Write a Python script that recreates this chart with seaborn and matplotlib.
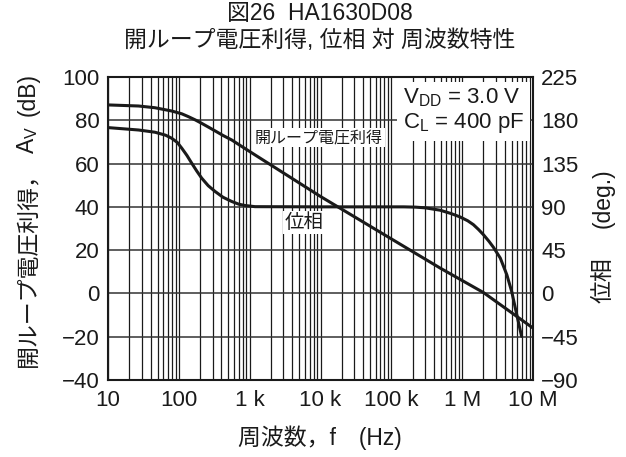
import numpy as np
import pandas as pd
import matplotlib
matplotlib.use("Agg")
import matplotlib.pyplot as plt
import matplotlib.ticker as mticker
import seaborn as sns

# ---- data ----
gain_freq = [10, 27, 46, 79, 110, 136, 170, 210, 260, 325, 420, 558, 800, 1190, 10000,
             100000, 490000, 2e6, 1e7]
gain_db = [87.1, 86.6, 85.8, 84.3, 83.0, 81.7, 80.2, 78.6, 76.9, 75.1, 73.0, 70.9, 67.6, 64.0,
           44.8, 25.2, 11.7, 0.4, -16.0]

phase_freq = [10, 27, 46, 65, 79, 95, 110, 130, 152, 180, 210, 260, 325, 420, 558, 700, 861,
              1190, 10000, 150000, 220000, 300000, 490000, 700000, 935000, 1.2e6, 1.44e6, 1.7e6,
              2e6, 2.4e6, 2.76e6, 3.45e6, 4.27e6, 5e6, 5.9e6, 6.9e6]
phase_deg = [172.4, 169.9, 167.6, 164.5, 161.4, 157, 151, 143.5, 135.4, 127, 119.9, 112, 106,
             100, 95.6, 92.8, 91.4, 90.2, 90, 90, 89.7, 89, 86.5, 83, 79.5, 75.5, 71.5, 66.5,
             61, 54, 48, 36.8, 19.4, 2.1, -22.1, -44.6]

xtick_vals = [10, 100, 1e3, 1e4, 1e5, 1e6, 1e7]
xtick_labels = ["10", "100", "1 k", "10 k", "100 k", "1 M", "10 M"]
left_ticks = [-40, -20, 0, 20, 40, 60, 80, 100]
right_ticks = [-90, -45, 0, 45, 90, 135, 180, 225]

INK = "#1a1a1a"
sns.set_style("white")
plt.rcParams['font.family'] = ['Liberation Sans', 'Noto Sans CJK JP', 'DejaVu Sans']
plt.rcParams['mathtext.fontset'] = 'custom'
plt.rcParams['mathtext.rm'] = 'Liberation Sans'

W, H = 626, 457
fig = plt.figure(figsize=(W / 100, H / 100), dpi=100)
ax = fig.add_axes([108 / W, 1 - 380 / H, (533 - 108) / W, (380 - 77) / H])

gdf = pd.DataFrame({"f": gain_freq, "g": gain_db})
pdf = pd.DataFrame({"f": phase_freq, "p": phase_deg})

ax.set_xscale("log")
sns.lineplot(data=gdf, x="f", y="g", ax=ax, color=INK, lw=2.2, zorder=5)
ax.set_xlim(10, 1e7)
ax.set_ylim(-40, 100)
ax.set_yticks(left_ticks)
ax.set_yticklabels([str(v).replace("-", "\u2212") for v in left_ticks])
ax.set_xticks(xtick_vals)
ax.set_xticklabels(xtick_labels)
ax.xaxis.set_minor_locator(mticker.LogLocator(base=10, subs=np.arange(2, 10), numticks=20))
ax.xaxis.set_minor_formatter(mticker.NullFormatter())
ax.grid(which="both", axis="x", color=INK, lw=0.9)
ax.grid(which="major", axis="y", color="#333333", lw=1.1)
ax.tick_params(which="both", length=0, labelsize=16, colors=INK)
ax.tick_params(axis="x", pad=7)
ax.tick_params(axis="y", pad=6)
ax.set_xlabel("")
ax.set_ylabel("")
for s in ax.spines.values():
    s.set_color(INK)
    s.set_linewidth(1.5)

ax2 = ax.twinx()
sns.lineplot(data=pdf, x="f", y="p", ax=ax2, color=INK, lw=2.2, zorder=5)
ax2.set_ylim(-90, 225)
ax2.set_yticks(right_ticks)
ax2.set_yticklabels([str(v).replace("-", "\u2212") for v in right_ticks])
ax2.tick_params(length=0, labelsize=16, colors=INK, pad=6)
ax2.set_xlim(10, 1e7)
ax2.set_ylabel("")
for s in ax2.spines.values():
    s.set_visible(False)

# titles
fig.text(320 / W, 1 - 14 / H, "図26  HA1630D08", ha="center", va="center", fontsize=16.5, color=INK)
fig.text(320 / W, 1 - 41 / H, "開ループ電圧利得, 位相 対 周波数特性", ha="center", va="center",
         fontsize=16.5, color=INK)

# x label
fig.text(320 / W, 1 - 438 / H, "周波数，f　(Hz)", ha="center", va="center", fontsize=16.5, color=INK)

# left y label (pieces)
fig.text(28 / W, 1 - 264 / H, "開ループ電圧利得，", rotation=90, ha="center", va="center",
         fontsize=16.5, color=INK)
fig.text(28 / W, 1 - 140 / H, "A$_\\mathrm{V}$", rotation=90, ha="center", va="center",
         fontsize=16.5, color=INK)
fig.text(28 / W, 1 - 95 / H, "(dB)", rotation=90, ha="center", va="center",
         fontsize=16.5, color=INK)

# right y label
fig.text(603 / W, 1 - 280 / H, "位相", rotation=90, ha="center", va="center", fontsize=16.5, color=INK)
fig.text(603 / W, 1 - 198 / H, "(deg.)", rotation=90, ha="center", va="center", fontsize=16.5, color=INK)

# annotations
ax.text(1190, 71.9, "開ループ電圧利得", fontsize=11.5, color=INK, ha="left", va="center",
        bbox=dict(facecolor="white", edgecolor="none", pad=1.5), zorder=6)
ax.text(3160, 32.6, "位相", fontsize=14, color=INK, ha="left", va="center",
        bbox=dict(facecolor="white", edgecolor="none", pad=1.5), zorder=6)
ax.text(1.45e5, 84.5, "V$_\\mathrm{DD}$ = 3.0 V\nC$_\\mathrm{L}$ = 400 pF", fontsize=16,
        color=INK, ha="left", va="center", linespacing=1.15,
        bbox=dict(facecolor="white", edgecolor="none", pad=4), zorder=6)

fig.savefig("out.png", dpi=100)
